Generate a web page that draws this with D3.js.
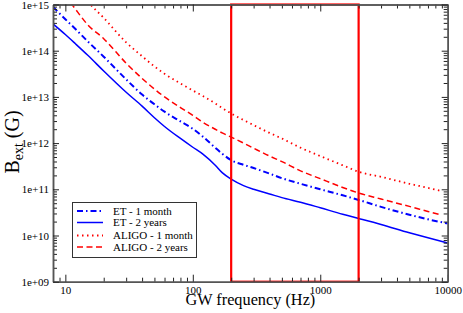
<!DOCTYPE html>
<html>
<head>
<meta charset="utf-8">
<script src="https://cdn.jsdelivr.net/npm/d3@7"></script>
<style>
  body { margin: 0; background: #fff; }
  svg, svg text { font-family: "Liberation Serif", "DejaVu Serif", serif; }
</style>
</head>
<body>
<div id="content"></div>
<script>
// frequencies (Hz) and log10 of B_ext (G)
var freqET = [8, 10, 12, 15, 20, 30, 40, 50, 60, 80, 100, 120, 150, 170, 200, 250, 300, 400, 500, 700, 1000, 1500, 2000, 3000, 5000, 7000, 10000];
var et1month = [14.95, 14.68, 14.47, 14.20, 13.87, 13.38, 13.05, 12.84, 12.68, 12.47, 12.31, 12.14, 11.90, 11.77, 11.63, 11.53, 11.46, 11.34, 11.24, 11.12, 11.00, 10.87, 10.77, 10.62, 10.45, 10.35, 10.26];
var et2years = [14.58, 14.35, 14.15, 13.90, 13.56, 13.10, 12.80, 12.55, 12.36, 12.10, 11.91, 11.76, 11.52, 11.36, 11.22, 11.08, 11.00, 10.90, 10.82, 10.72, 10.60, 10.46, 10.37, 10.24, 10.06, 9.95, 9.84];

var freqALIGO = [11, 12, 15, 20, 30, 40, 50, 60, 80, 100, 120, 150, 170, 200, 250, 300, 400, 500, 700, 1000, 1500, 2000, 3000, 5000, 7000, 9000];
var aligo1month = [15.60, 15.45, 15.07, 14.71, 14.18, 13.88, 13.66, 13.50, 13.29, 13.14, 13.02, 12.86, 12.76, 12.64, 12.50, 12.39, 12.22, 12.10, 11.90, 11.72, 11.52, 11.38, 11.27, 11.12, 11.03, 10.96];
var aligo2years = [15.04, 14.90, 14.56, 14.26, 13.73, 13.40, 13.17, 13.00, 12.77, 12.60, 12.45, 12.30, 12.22, 12.13, 12.00, 11.89, 11.72, 11.60, 11.40, 11.23, 11.04, 10.92, 10.79, 10.63, 10.52, 10.44];

var legendLabels = ["ET - 1 month", "ET - 2 years", "ALIGO - 1 month", "ALIGO - 2 years"];
var xTickValues = [10, 100, 1000, 10000];
var yTickValues = [1e9, 1e10, 1e11, 1e12, 1e13, 1e14, 1e15];
var bandLow = 200, bandHigh = 2000;

var series = [
  { name: legendLabels[0], f: freqET, v: et1month, color: "#0000ff", dash: "6,3,1.5,3", width: 2 },
  { name: legendLabels[1], f: freqET, v: et2years, color: "#0000ff", dash: null, width: 1.5 },
  { name: legendLabels[2], f: freqALIGO, v: aligo1month, color: "#ff0000", dash: "1.5,3.5", width: 1.8 },
  { name: legendLabels[3], f: freqALIGO, v: aligo2years, color: "#ff0000", dash: "6,3.5", width: 1.5 }
];

var serif = "'Liberation Serif', 'DejaVu Serif', serif";

var svg = d3.select("#content").append("svg")
  .attr("width", 463).attr("height", 313)
  .attr("font-family", serif);

var pl = 53, pr = 447.7, pt = 4.5, pb = 281.7;

var x = d3.scaleLog().domain([8, 10000]).range([pl, pr]);
var y = d3.scaleLog().domain([1e9, 1e15]).range([pb, pt]);

function minors(lo, hi) {
  var out = [];
  for (var e = Math.floor(Math.log10(lo)); e <= Math.ceil(Math.log10(hi)); e++) {
    for (var m = 2; m <= 9; m++) {
      var v = m * Math.pow(10, e);
      if (v > lo && v < hi) out.push(v);
    }
  }
  return out;
}

svg.append("clipPath").attr("id", "plot")
  .append("rect").attr("x", pl).attr("y", pt).attr("width", pr - pl).attr("height", pb - pt);

var line = d3.line()
  .x(function(d) { return x(d[0]); })
  .y(function(d) { return y(Math.pow(10, d[1])); })
  .curve(d3.curveMonotoneX);

var curves = svg.append("g").attr("clip-path", "url(#plot)");
series.forEach(function(s) {
  var pts = s.f.map(function(f, i) { return [f, s.v[i]]; });
  curves.append("path")
    .datum(pts)
    .attr("d", line)
    .attr("fill", "none")
    .attr("stroke", s.color)
    .attr("stroke-width", s.width)
    .attr("stroke-dasharray", s.dash);
});

// highlighted band
svg.append("rect")
  .attr("x", x(bandLow)).attr("y", y(1e15))
  .attr("width", x(bandHigh) - x(bandLow))
  .attr("height", y(1e9) - y(1e15))
  .attr("fill", "none")
  .attr("stroke", "#ff0000")
  .attr("stroke-width", 2.2);

// axes, ticks inward
function styleAxis(g) {
  g.attr("font-family", serif);
  g.select(".domain").attr("stroke", "#555").attr("stroke-width", 1.5);
  g.selectAll(".tick line").attr("stroke", "#222");
  g.selectAll("text").attr("font-size", 11).attr("fill", "#000");
}

var fmtY = function(d) {
  var e = Math.round(Math.log10(d));
  return "1e+" + (e < 10 ? "0" + e : e);
};

svg.append("g").attr("transform", "translate(0," + pb + ")")
  .call(d3.axisBottom(x).tickValues(minors(8, 10000)).tickSize(-4).tickSizeOuter(0).tickFormat(""))
  .call(styleAxis);
svg.append("g").attr("transform", "translate(0," + pb + ")")
  .call(d3.axisBottom(x).tickValues(xTickValues).tickSize(-7).tickSizeOuter(0).tickPadding(5).tickFormat(d3.format("d")))
  .call(styleAxis);

svg.append("g").attr("transform", "translate(0," + pt + ")")
  .call(d3.axisTop(x).tickValues(minors(8, 10000)).tickSize(-4).tickSizeOuter(0).tickFormat(""))
  .call(styleAxis);
svg.append("g").attr("transform", "translate(0," + pt + ")")
  .call(d3.axisTop(x).tickValues(xTickValues).tickSize(-7).tickSizeOuter(0).tickFormat(""))
  .call(styleAxis);

svg.append("g").attr("transform", "translate(" + pl + ",0)")
  .call(d3.axisLeft(y).tickValues(minors(1e9, 1e15)).tickSize(-4).tickSizeOuter(0).tickFormat(""))
  .call(styleAxis);
svg.append("g").attr("transform", "translate(" + pl + ",0)")
  .call(d3.axisLeft(y).tickValues(yTickValues).tickSize(-6).tickSizeOuter(0).tickPadding(4).tickFormat(fmtY))
  .call(styleAxis);

svg.append("g").attr("transform", "translate(" + pr + ",0)")
  .call(d3.axisRight(y).tickValues(minors(1e9, 1e15)).tickSize(-4).tickSizeOuter(0).tickFormat(""))
  .call(styleAxis);
svg.append("g").attr("transform", "translate(" + pr + ",0)")
  .call(d3.axisRight(y).tickValues(yTickValues).tickSize(-6).tickSizeOuter(0).tickFormat(""))
  .call(styleAxis);

// axis titles
svg.append("text")
  .attr("x", (pl + pr) / 2).attr("y", 305)
  .attr("text-anchor", "middle")
  .attr("font-size", 16.3)
  .text("GW frequency (Hz)");

var yl = svg.append("text")
  .attr("transform", "translate(19,142) rotate(-90)")
  .attr("text-anchor", "middle")
  .attr("font-size", 20);
yl.append("tspan").text("B");
yl.append("tspan").attr("font-size", 14).attr("dy", 4).text("ext");
yl.append("tspan").attr("dy", -4).text("\u00a0(G)");

// legend
var legend = svg.append("g");
legend.append("rect")
  .attr("x", 72.5).attr("y", 202.5).attr("width", 124).attr("height", 55)
  .attr("fill", "#fff").attr("stroke", "#333").attr("stroke-width", 1);
var rowsY = [211, 222.5, 235.5, 247];
series.forEach(function(s, i) {
  legend.append("line")
    .attr("x1", 77).attr("x2", 103).attr("y1", rowsY[i]).attr("y2", rowsY[i])
    .attr("stroke", s.color).attr("stroke-width", s.width)
    .attr("stroke-dasharray", s.dash);
  legend.append("text")
    .attr("x", 113).attr("y", rowsY[i]).attr("dy", "0.35em")
    .attr("font-size", 11)
    .text(s.name);
});
</script>
</body>
</html>
